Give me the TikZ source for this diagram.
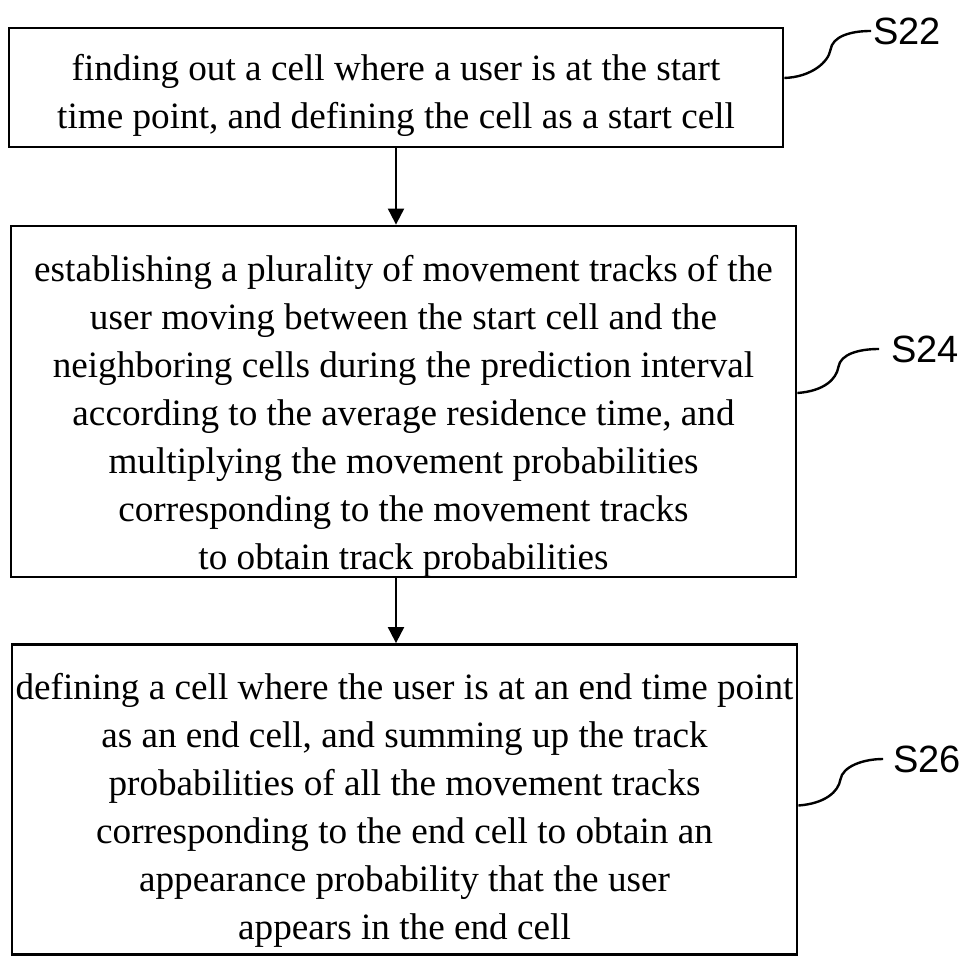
\documentclass[tikz,border=0pt]{standalone}
\usepackage{fontspec}
\setmainfont{Liberation Serif}
\newfontfamily\stepfont{Liberation Sans}
\usetikzlibrary{arrows.meta, positioning, calc}

\begin{document}
\begin{tikzpicture}[x=0.5pt, y=-0.5pt, box/.style={rectangle, draw, line width=1.4pt, inner sep=0pt}, txt/.style={align=center, inner sep=0pt, font=\fontsize{18.6}{24}\selectfont}, lbl/.style={anchor=west, inner sep=0pt, font=\stepfont\fontsize{19}{22}\selectfont}, arr/.style={-{Triangle[length=8pt, width=8pt]}, line width=1pt}, squig/.style={line width=1.2pt}]

            \useasboundingbox (0,0) rectangle (961,956);

            \node[box, minimum width=387pt, minimum height=59.5pt] (B1) at (396,87.5) {};
            \node[box, minimum width=392.5pt, minimum height=175.5pt] (B2) at (403.5,401.5) {};
            \node[box, minimum width=392.5pt, minimum height=155pt] (B3) at (404.5,799.5) {};

            \node[txt] (T1) at (396,95.5) {finding out a cell where a user is at the start\\time point, and defining the cell as a start cell};
            \node[txt] (T2) at (403.5,416) {establishing a plurality of movement tracks of the\\user moving between the start cell and the\\neighboring cells during the prediction interval\\according to the average residence time, and\\multiplying the movement probabilities\\corresponding to the movement tracks\\to obtain track probabilities};
            \node[txt] (T3) at (404.5,810) {defining a cell where the user is at an end time point\\as an end cell, and summing up the track\\probabilities of all the movement tracks\\corresponding to the end cell to obtain an\\appearance probability that the user\\appears in the end cell};

            \node[lbl] (L22) at (873,31) {S22};
            \node[lbl] (L24) at (891,349) {S24};
            \node[lbl] (L26) at (893,759) {S26};

            \coordinate (c22) at ($(B1.east)+(0,-9.5)$);
            \coordinate (c24) at ($(B2.east)+(0,-8.5)$);
            \coordinate (c26) at ($(B3.east)+(0,6)$);

            \draw[arr] (B1.south) -- (B1.south |- B2.north);
            \draw[arr] (B1.south |- B2.south) -- (B1.south |- B3.north);

            \draw[squig] (c22) .. controls +(27,-1) and +(-2,12) .. ++(46,-28) .. controls +(2,-14) and +(-20,0) .. ([xshift=-1pt]L22.west);
            \draw[squig] (c24) .. controls +(27,-2) and +(-2,12) .. ++(41,-26) .. controls +(2,-13) and +(-20,0) .. ([xshift=-6pt]L24.west);
            \draw[squig] (c26) .. controls +(27,-2) and +(-2,12) .. ++(42,-26) .. controls +(2,-13) and +(-20,0) .. ([xshift=-5pt]L26.west);

        \end{tikzpicture}
\end{document}
